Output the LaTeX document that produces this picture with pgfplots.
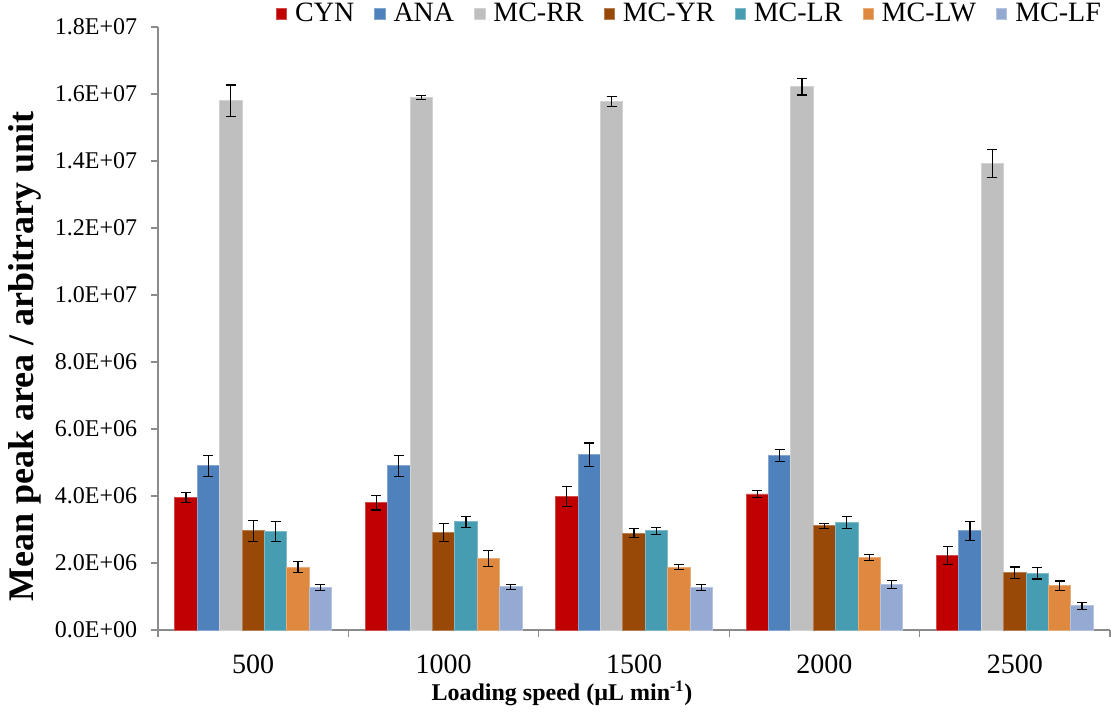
\documentclass[border=0pt]{standalone}
\usepackage{pgfplots}
\pgfplotsset{compat=1.18}
\usepackage{fontspec}
\setmainfont{Liberation Serif}
\definecolor{cCYN}{HTML}{C00000}
\definecolor{cANA}{HTML}{4F81BD}
\definecolor{cRR}{HTML}{BFBFBF}
\definecolor{cYR}{HTML}{984807}
\definecolor{cLR}{HTML}{469DB1}
\definecolor{cLW}{HTML}{DE8840}
\definecolor{cLF}{HTML}{95AAD2}
\definecolor{axgray}{HTML}{8C8C8C}
\pgfplotsset{
  myerr/.style={error bars/.cd, y dir=both, y explicit,
    error bar style={black, line width=0.6pt},
    error mark options={rotate=90, black, mark size=2.5pt, line width=0.6pt}},
}
\begin{document}
\begin{tikzpicture}
\begin{axis}[
  at={(0,0)}, anchor=south west,
  scale only axis, width=476pt, height=301.5pt,
  xmin=-0.5, xmax=4.5, ymin=0, ymax=18,
  axis lines=left,
  axis line style={-, draw=axgray, line width=0.65pt},
  tick style={draw=axgray, line width=0.65pt},
  tick align=outside, major tick length=3.25pt,
  ybar=0pt, bar width=11.2pt,
  xtick={-0.5,0.5,1.5,2.5,3.5,4.5},
  xticklabels={500,1000,1500,2000,2500,{}},
  x tick label as interval,
  ytick={0,2,4,6,8,10,12,14,16,18},
  yticklabels={0.0E+00,2.0E+06,4.0E+06,6.0E+06,8.0E+06,1.0E+07,1.2E+07,1.4E+07,1.6E+07,1.8E+07},
  xticklabel style={font=\fontsize{14}{16}\selectfont, anchor=north, inner sep=0pt, yshift=-9pt},
  yticklabel style={font=\fontsize{12}{14}\selectfont, anchor=east, inner sep=0pt, xshift=-7pt},
  xlabel={\textbf{Loading speed (µL min\textsuperscript{-1})}},
  xlabel style={font=\fontsize{12}{14}\selectfont, at={(axis description cs:0.4244,-0.1161)}, anchor=base},
  ylabel={\textbf{Mean peak area / arbitrary unit}},
  ylabel style={font=\fontsize{18}{20}\selectfont, at={(axis description cs:-0.1397,0.454)}, anchor=center},
  legend columns=7,
  legend style={draw=none, fill=none, inner sep=0pt,
    at={(axis description cs:0.995,1.0216)}, anchor=east,
    font=\fontsize{14}{16}\selectfont,
    /tikz/every odd column/.append style={column sep=2pt},
    /tikz/every even column/.append style={column sep=8pt}},
  legend image code/.code={\fill[#1] (0pt,-2.6pt) rectangle (5.2pt,2.6pt);},
  clip=false,
]
\addplot[fill=cCYN, draw=cCYN!70!white, line width=0.4pt, myerr] coordinates {
 (0,3.95) +- (0,0.15) (1,3.80) +- (0,0.22) (2,3.98) +- (0,0.30) (3,4.06) +- (0,0.095) (4,2.22) +- (0,0.27)};
\addplot[fill=cANA, draw=cANA!70!white, line width=0.4pt, myerr] coordinates {
 (0,4.90) +- (0,0.32) (1,4.90) +- (0,0.31) (2,5.23) +- (0,0.35) (3,5.20) +- (0,0.18) (4,2.96) +- (0,0.28)};
\addplot[fill=cRR, draw=cRR!70!white, line width=0.4pt, myerr] coordinates {
 (0,15.80) +- (0,0.47) (1,15.90) +- (0,0.06) (2,15.78) +- (0,0.15) (3,16.22) +- (0,0.25) (4,13.92) +- (0,0.42)};
\addplot[fill=cYR, draw=cYR!70!white, line width=0.4pt, myerr] coordinates {
 (0,2.96) +- (0,0.31) (1,2.92) +- (0,0.27) (2,2.89) +- (0,0.13) (3,3.11) +- (0,0.075) (4,1.71) +- (0,0.17)};
\addplot[fill=cLR, draw=cLR!70!white, line width=0.4pt, myerr] coordinates {
 (0,2.93) +- (0,0.30) (1,3.23) +- (0,0.17) (2,2.96) +- (0,0.10) (3,3.21) +- (0,0.175) (4,1.69) +- (0,0.165)};
\addplot[fill=cLW, draw=cLW!70!white, line width=0.4pt, myerr] coordinates {
 (0,1.88) +- (0,0.16) (1,2.14) +- (0,0.245) (2,1.88) +- (0,0.08) (3,2.16) +- (0,0.085) (4,1.32) +- (0,0.145)};
\addplot[fill=cLF, draw=cLF!70!white, line width=0.4pt, myerr] coordinates {
 (0,1.27) +- (0,0.08) (1,1.29) +- (0,0.07) (2,1.27) +- (0,0.08) (3,1.36) +- (0,0.115) (4,0.72) +- (0,0.105)};
\legend{CYN,ANA,MC-RR,MC-YR,MC-LR,MC-LW,MC-LF}
\end{axis}
\pgfresetboundingbox
\path[use as bounding box] (-79pt,-43.5pt) rectangle (476.5pt,315pt);
\end{tikzpicture}
\end{document}
